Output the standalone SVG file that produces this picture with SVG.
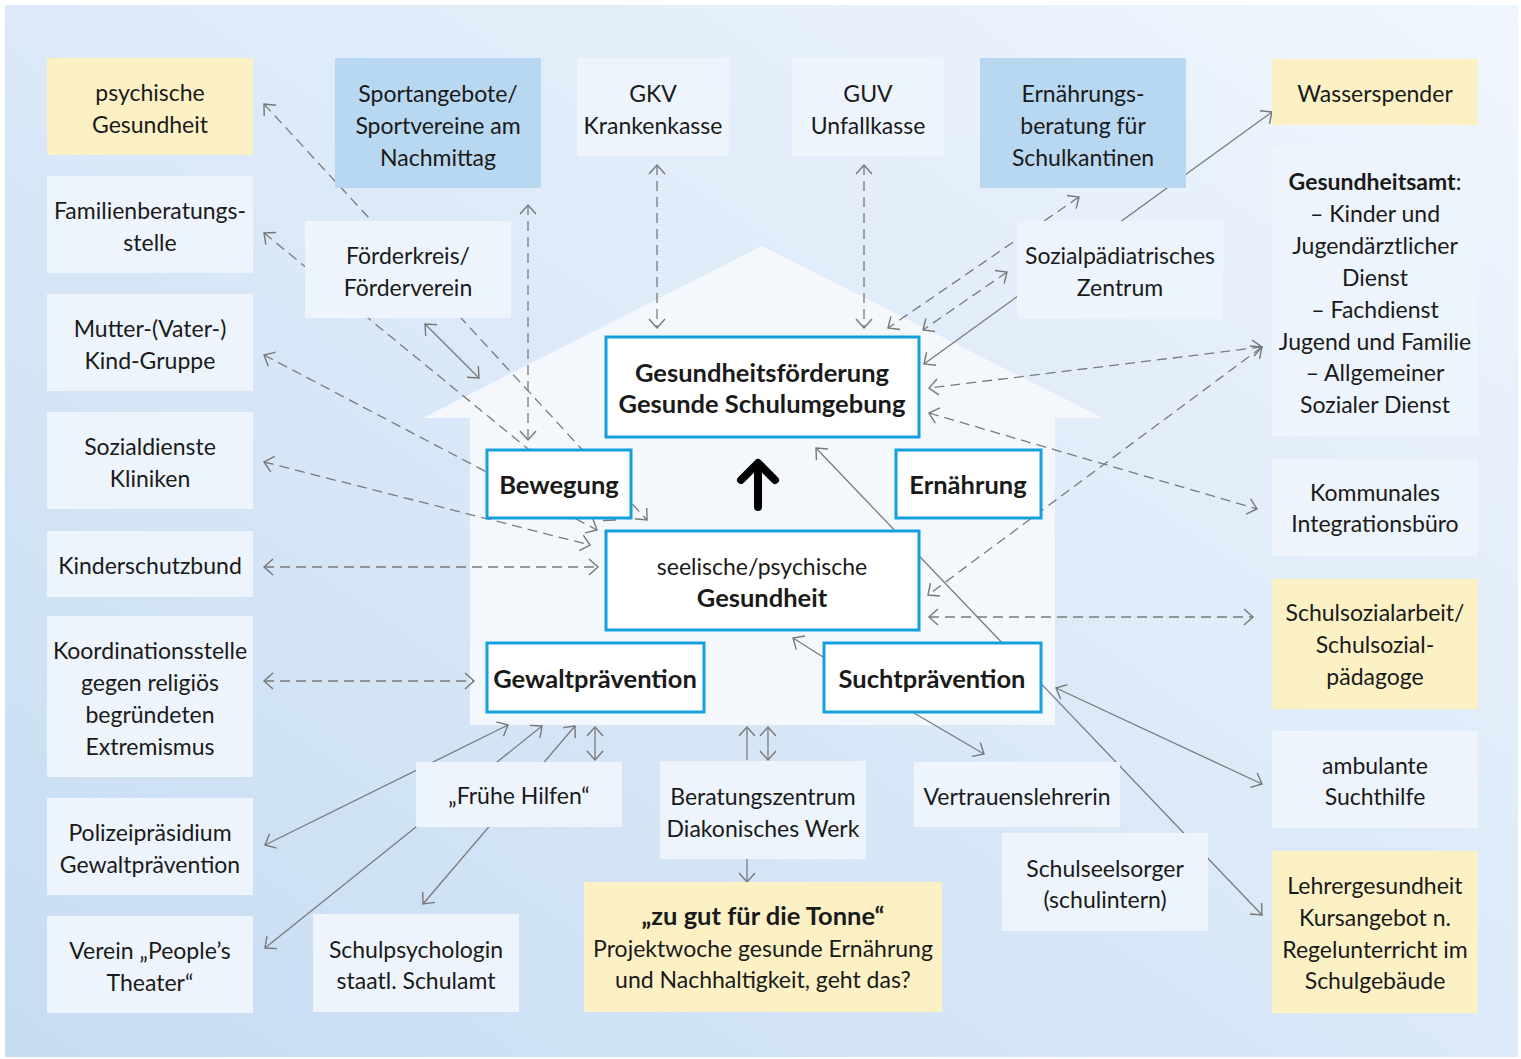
<svg xmlns="http://www.w3.org/2000/svg" width="1521" height="1059" viewBox="0 0 1521 1059">
  <defs>
    <linearGradient id="bg" x1="0" y1="1" x2="1" y2="0">
      <stop offset="0" stop-color="#c6dcf3"/>
      <stop offset="1" stop-color="#f0f6fd"/>
    </linearGradient>
    <marker id="ah" viewBox="0 0 14 20" refX="11" refY="10" markerWidth="14" markerHeight="20" markerUnits="userSpaceOnUse" orient="auto-start-reverse">
      <path d="M2,2 L11,10 L2,18" fill="none" stroke="#777" stroke-width="1.4"/>
    </marker>
    <style>
      .t { font-family: Lato, "Open Sans", "Liberation Sans", sans-serif; font-size: 23px; fill: #1a1a1a; text-anchor: middle; }
      .b { font-weight: 700; font-size: 25.5px; }
      .lite { fill: #edf4fc; }
      .yel { fill: #fbf1c5; }
      .mid { fill: #b8d7f1; }
      .core { fill: #ffffff; stroke: #14a0dc; stroke-width: 3; }
      .dash { fill: none; stroke: #7a7a7a; stroke-width: 1.3; stroke-dasharray: 10 6; }
      .solid { fill: none; stroke: #7a7a7a; stroke-width: 1.3; }
      .both { marker-start: url(#ah); marker-end: url(#ah); }
      .end { marker-end: url(#ah); }
    </style>
  </defs>

  <!-- backdrop -->
  <rect x="0" y="0" width="1521" height="1059" fill="#ffffff"/>
  <rect x="5" y="5" width="1513" height="1052" fill="url(#bg)"/>

  <!-- house silhouette -->
  <path d="M423,418 L762,246 L1103,418 L1055,418 L1055,725 L470,725 L470,418 Z" fill="#f4f8fd"/>

  <!-- connectors -->
  <g id="connectors">
    <path class="dash both" d="M264,104 L647,520"/>
    <path class="dash both" d="M264,233 L615,520"/>
    <path class="dash both" d="M264,355 L597,530"/>
    <path class="dash both" d="M264,462 L590,545"/>
    <path class="dash both" d="M264,567 L598,567"/>
    <path class="dash both" d="M264,681 L474,681"/>
    <path class="dash both" d="M528,205 L528,440"/>
    <path class="dash both" d="M657,165 L657,328"/>
    <path class="dash both" d="M864,165 L864,328"/>
    <path class="dash both" d="M1079,197 L888,328"/>
    <path class="dash both" d="M1007,272 L923,330"/>
    <path class="dash both" d="M1262,347 L929,388"/>
    <path class="dash both" d="M1262,347 L928,595"/>
    <path class="dash both" d="M929,413 L1257,509"/>
    <path class="dash both" d="M929,617 L1253,617"/>

    <path class="solid both" d="M425,324 L479,378"/>
    <path class="solid both" d="M924,364 L1272,112"/>
    <path class="solid both" d="M816,448 L1262,915"/>
    <path class="solid end" d="M823,657 L793,638"/>
    <path class="solid end" d="M914,713 L984,754"/>
    <path class="solid both" d="M1056,688 L1262,784"/>
    <path class="solid both" d="M265,845 L508,725"/>
    <path class="solid both" d="M265,948 L542,726"/>
    <path class="solid both" d="M423,904 L575,726"/>
    <path class="solid both" d="M595,727 L595,760"/>
    <path class="solid end" d="M747,760 L747,727"/>
    <path class="solid both" d="M768,727 L768,760"/>
    <path class="solid end" d="M747,859 L747,882"/>

    <!-- upward arrow inside the house -->
    <path d="M758,507 L758,464 M741,480 L758,463 L775,480" fill="none" stroke="#000" stroke-width="8" stroke-linecap="round" stroke-linejoin="round"/>
  </g>

  <!-- left column -->
  <g id="psychische-gesundheit">
    <rect class="yel" x="47" y="58" width="206" height="97"/>
    <text class="t" x="150" y="101">psychische</text>
    <text class="t" x="150" y="133">Gesundheit</text>
  </g>
  <g id="familienberatungsstelle">
    <rect class="lite" x="47" y="176" width="206" height="97"/>
    <text class="t" x="150" y="219">Familienberatungs-</text>
    <text class="t" x="150" y="251">stelle</text>
  </g>
  <g id="mutter-kind-gruppe">
    <rect class="lite" x="47" y="294" width="206" height="97"/>
    <text class="t" x="150" y="337">Mutter-(Vater-)</text>
    <text class="t" x="150" y="369">Kind-Gruppe</text>
  </g>
  <g id="sozialdienste">
    <rect class="lite" x="47" y="412" width="206" height="97"/>
    <text class="t" x="150" y="455">Sozialdienste</text>
    <text class="t" x="150" y="487">Kliniken</text>
  </g>
  <g id="kinderschutzbund">
    <rect class="lite" x="47" y="531" width="206" height="66"/>
    <text class="t" x="150" y="574">Kinderschutzbund</text>
  </g>
  <g id="koordinationsstelle">
    <rect class="lite" x="47" y="616" width="206" height="161"/>
    <text class="t" x="150" y="659">Koordinationsstelle</text>
    <text class="t" x="150" y="691">gegen religiös</text>
    <text class="t" x="150" y="723">begründeten</text>
    <text class="t" x="150" y="755">Extremismus</text>
  </g>
  <g id="polizeipraesidium">
    <rect class="lite" x="47" y="798" width="206" height="97"/>
    <text class="t" x="150" y="841">Polizeipräsidium</text>
    <text class="t" x="150" y="873">Gewaltprävention</text>
  </g>
  <g id="peoples-theater">
    <rect class="lite" x="47" y="916" width="206" height="97"/>
    <text class="t" x="150" y="959">Verein „People’s</text>
    <text class="t" x="150" y="991">Theater“</text>
  </g>

  <!-- top row -->
  <g id="sportangebote">
    <rect class="mid" x="335" y="58" width="206" height="130"/>
    <text class="t" x="438" y="102">Sportangebote/</text>
    <text class="t" x="438" y="134">Sportvereine am</text>
    <text class="t" x="438" y="166">Nachmittag</text>
  </g>
  <g id="gkv">
    <rect class="lite" x="577" y="58" width="152" height="98"/>
    <text class="t" x="653" y="102">GKV</text>
    <text class="t" x="653" y="134">Krankenkasse</text>
  </g>
  <g id="guv">
    <rect class="lite" x="792" y="58" width="152" height="98"/>
    <text class="t" x="868" y="102">GUV</text>
    <text class="t" x="868" y="134">Unfallkasse</text>
  </g>
  <g id="ernaehrungsberatung">
    <rect class="mid" x="980" y="58" width="206" height="130"/>
    <text class="t" x="1083" y="102">Ernährungs-</text>
    <text class="t" x="1083" y="134">beratung für</text>
    <text class="t" x="1083" y="166">Schulkantinen</text>
  </g>
  <g id="foerderkreis">
    <rect class="lite" x="305" y="221" width="206" height="97"/>
    <text class="t" x="408" y="264">Förderkreis/</text>
    <text class="t" x="408" y="296">Förderverein</text>
  </g>
  <g id="sozialpaediatrisches-zentrum">
    <rect class="lite" x="1017" y="221" width="206" height="98"/>
    <text class="t" x="1120" y="264">Sozialpädiatrisches</text>
    <text class="t" x="1120" y="296">Zentrum</text>
  </g>

  <!-- right column -->
  <g id="wasserspender">
    <rect class="yel" x="1272" y="59" width="206" height="66"/>
    <text class="t" x="1375" y="102">Wasserspender</text>
  </g>
  <g id="gesundheitsamt">
    <rect class="lite" x="1272" y="147" width="206" height="289"/>
    <text class="t" x="1375" y="190"><tspan font-weight="700">Gesundheitsamt</tspan>:</text>
    <text class="t" x="1375" y="222">– Kinder und</text>
    <text class="t" x="1375" y="254">Jugendärztlicher</text>
    <text class="t" x="1375" y="286">Dienst</text>
    <text class="t" x="1375" y="318">– Fachdienst</text>
    <text class="t" x="1375" y="350">Jugend und Familie</text>
    <text class="t" x="1375" y="381">– Allgemeiner</text>
    <text class="t" x="1375" y="413">Sozialer Dienst</text>
  </g>
  <g id="integrationsbuero">
    <rect class="lite" x="1272" y="459" width="206" height="97"/>
    <text class="t" x="1375" y="501">Kommunales</text>
    <text class="t" x="1375" y="532">Integrationsbüro</text>
  </g>
  <g id="schulsozialarbeit">
    <rect class="yel" x="1272" y="579" width="206" height="130"/>
    <text class="t" x="1375" y="621">Schulsozialarbeit/</text>
    <text class="t" x="1375" y="653">Schulsozial-</text>
    <text class="t" x="1375" y="685">pädagoge</text>
  </g>
  <g id="suchthilfe">
    <rect class="lite" x="1272" y="731" width="206" height="97"/>
    <text class="t" x="1375" y="774">ambulante</text>
    <text class="t" x="1375" y="805">Suchthilfe</text>
  </g>
  <g id="lehrergesundheit">
    <rect class="yel" x="1272" y="851" width="206" height="162"/>
    <text class="t" x="1375" y="894">Lehrergesundheit</text>
    <text class="t" x="1375" y="926">Kursangebot n.</text>
    <text class="t" x="1375" y="958">Regelunterricht im</text>
    <text class="t" x="1375" y="989">Schulgebäude</text>
  </g>

  <!-- house core -->
  <g id="gesundheitsfoerderung">
    <rect class="core" x="606" y="337" width="313" height="100"/>
    <text class="t b" x="762" y="382">Gesundheitsförderung</text>
    <text class="t b" x="762" y="413">Gesunde Schulumgebung</text>
  </g>
  <g id="bewegung">
    <rect class="core" x="487" y="450" width="144" height="68"/>
    <text class="t b" x="559" y="494">Bewegung</text>
  </g>
  <g id="ernaehrung">
    <rect class="core" x="896" y="450" width="145" height="68"/>
    <text class="t b" x="968" y="494">Ernährung</text>
  </g>
  <g id="seelische-gesundheit">
    <rect class="core" x="606" y="531" width="313" height="99"/>
    <text class="t" x="762" y="575">seelische/psychische</text>
    <text class="t b" x="762" y="607">Gesundheit</text>
  </g>
  <g id="gewaltpraevention">
    <rect class="core" x="487" y="643" width="217" height="69"/>
    <text class="t b" x="595" y="688">Gewaltprävention</text>
  </g>
  <g id="suchtpraevention">
    <rect class="core" x="824" y="643" width="217" height="69"/>
    <text class="t b" x="932" y="688">Suchtprävention</text>
  </g>

  <!-- bottom row -->
  <g id="fruehe-hilfen">
    <rect class="lite" x="416" y="762" width="206" height="65"/>
    <text class="t" x="519" y="804">„Frühe Hilfen“</text>
  </g>
  <g id="beratungszentrum">
    <rect class="lite" x="660" y="761" width="206" height="98"/>
    <text class="t" x="763" y="805">Beratungszentrum</text>
    <text class="t" x="763" y="837">Diakonisches Werk</text>
  </g>
  <g id="vertrauenslehrerin">
    <rect class="lite" x="914" y="762" width="206" height="65"/>
    <text class="t" x="1017" y="805">Vertrauenslehrerin</text>
  </g>
  <g id="schulseelsorger">
    <rect class="lite" x="1002" y="833" width="206" height="98"/>
    <text class="t" x="1105" y="877">Schulseelsorger</text>
    <text class="t" x="1105" y="908">(schulintern)</text>
  </g>
  <g id="schulpsychologin">
    <rect class="lite" x="313" y="914" width="206" height="98"/>
    <text class="t" x="416" y="958">Schulpsychologin</text>
    <text class="t" x="416" y="989">staatl. Schulamt</text>
  </g>
  <g id="zu-gut-fuer-die-tonne">
    <rect class="yel" x="584" y="882" width="358" height="130"/>
    <text class="t b" x="763" y="925">„zu gut für die Tonne“</text>
    <text class="t" x="763" y="957">Projektwoche gesunde Ernährung</text>
    <text class="t" x="763" y="988">und Nachhaltigkeit, geht das?</text>
  </g>
</svg>
